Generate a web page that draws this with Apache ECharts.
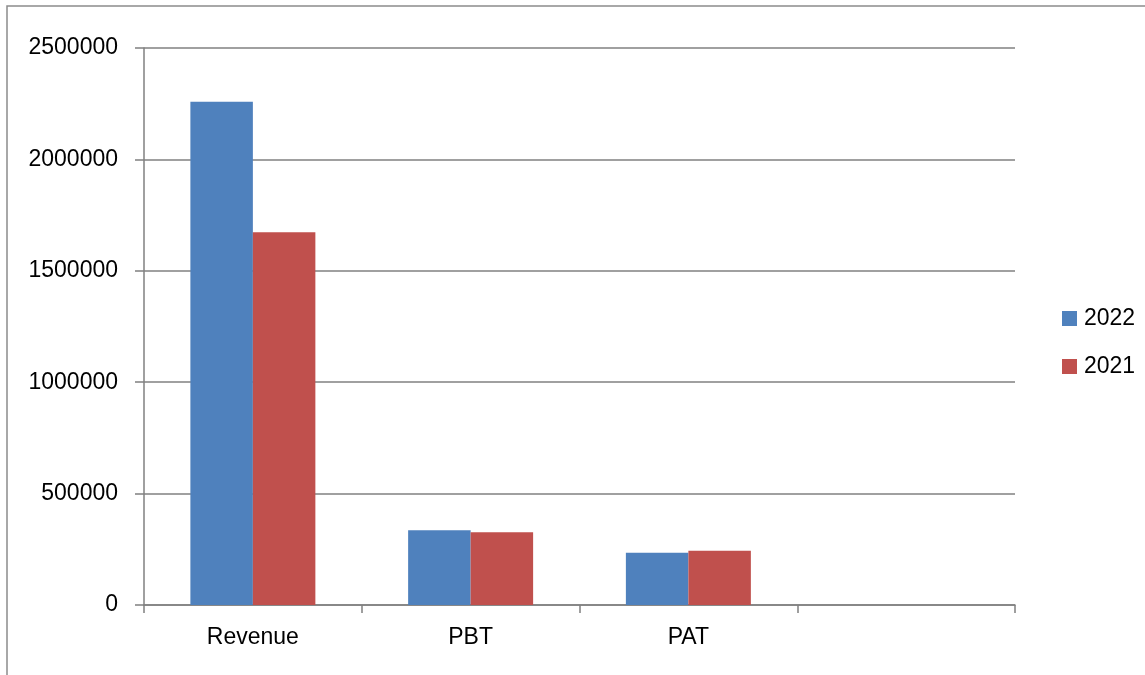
<!DOCTYPE html>
<html>
<head>
<meta charset="utf-8">
<script src="https://cdn.jsdelivr.net/npm/echarts@6/dist/echarts.min.js"></script>
<style>
	html, body { margin: 0; padding: 0; background: #fff; }
	#main { width: 1145px; height: 675px; }
</style>
</head>
<body>
<div id="main"></div>
<script>
// chart data
var categories = ['Revenue', 'PBT', 'PAT', ''];
var seriesNames = ['2022', '2021'];
var values2022 = [2259000, 335000, 234500, null];
var values2021 = [1673500, 326000, 243500, null];
var yTicks = { min: 0, max: 2500000, step: 500000 };

var axisGray = '#808080';
var font = 'Liberation Sans, Arial, sans-serif';

var myChart = echarts.init(document.getElementById('main'));
var option = {
	animation: false,
	backgroundColor: '#fff',
	graphic: [{
		type: 'rect',
		shape: { x: 7, y: 6, width: 1300, height: 900 },
		style: { fill: 'none', stroke: '#8c8c8c', lineWidth: 1.5 },
		silent: true
	}],
	legend: {
		orient: 'vertical',
		left: 1057,
		top: 302,
		itemWidth: 15,
		itemHeight: 15,
		itemGap: 25,
		icon: 'rect',
		textStyle: { fontFamily: font, fontSize: 23, color: '#000', lineHeight: 23, padding: [0, 0, 0, 2] },
		data: seriesNames
	},
	grid: {
		left: 144,
		top: 48,
		width: 871,
		height: 557,
		containLabel: false
	},
	xAxis: {
		type: 'category',
		data: categories,
		boundaryGap: true,
		axisLine: { show: true, lineStyle: { color: axisGray, width: 1.5 } },
		axisTick: { show: true, length: 8, alignWithLabel: false, lineStyle: { color: axisGray, width: 1.5 } },
		axisLabel: { margin: 21, fontFamily: font, fontSize: 23, color: '#000', interval: 0 },
		splitLine: { show: false }
	},
	yAxis: {
		type: 'value',
		min: yTicks.min,
		max: yTicks.max,
		interval: yTicks.step,
		axisLine: { show: true, lineStyle: { color: axisGray, width: 1.5 } },
		axisTick: { show: true, length: 9, lineStyle: { color: axisGray, width: 1.5 } },
		axisLabel: {
			margin: 26, fontFamily: font, fontSize: 23, color: '#000',
			formatter: function(value){ return String(value); }
		},
		splitLine: { show: true, lineStyle: { color: axisGray, width: 1.5 } }
	},
	series: [{
		name: seriesNames[0],
		type: 'bar',
		data: values2022,
		barGap: '0%',
		barCategoryGap: '42.6%',
		itemStyle: { color: '#4F81BD' }
	}, {
		name: seriesNames[1],
		type: 'bar',
		data: values2021,
		barGap: '0%',
		barCategoryGap: '42.6%',
		itemStyle: { color: '#C0504D' }
	}]
};
myChart.setOption(option, true);
</script>
</body>
</html>
